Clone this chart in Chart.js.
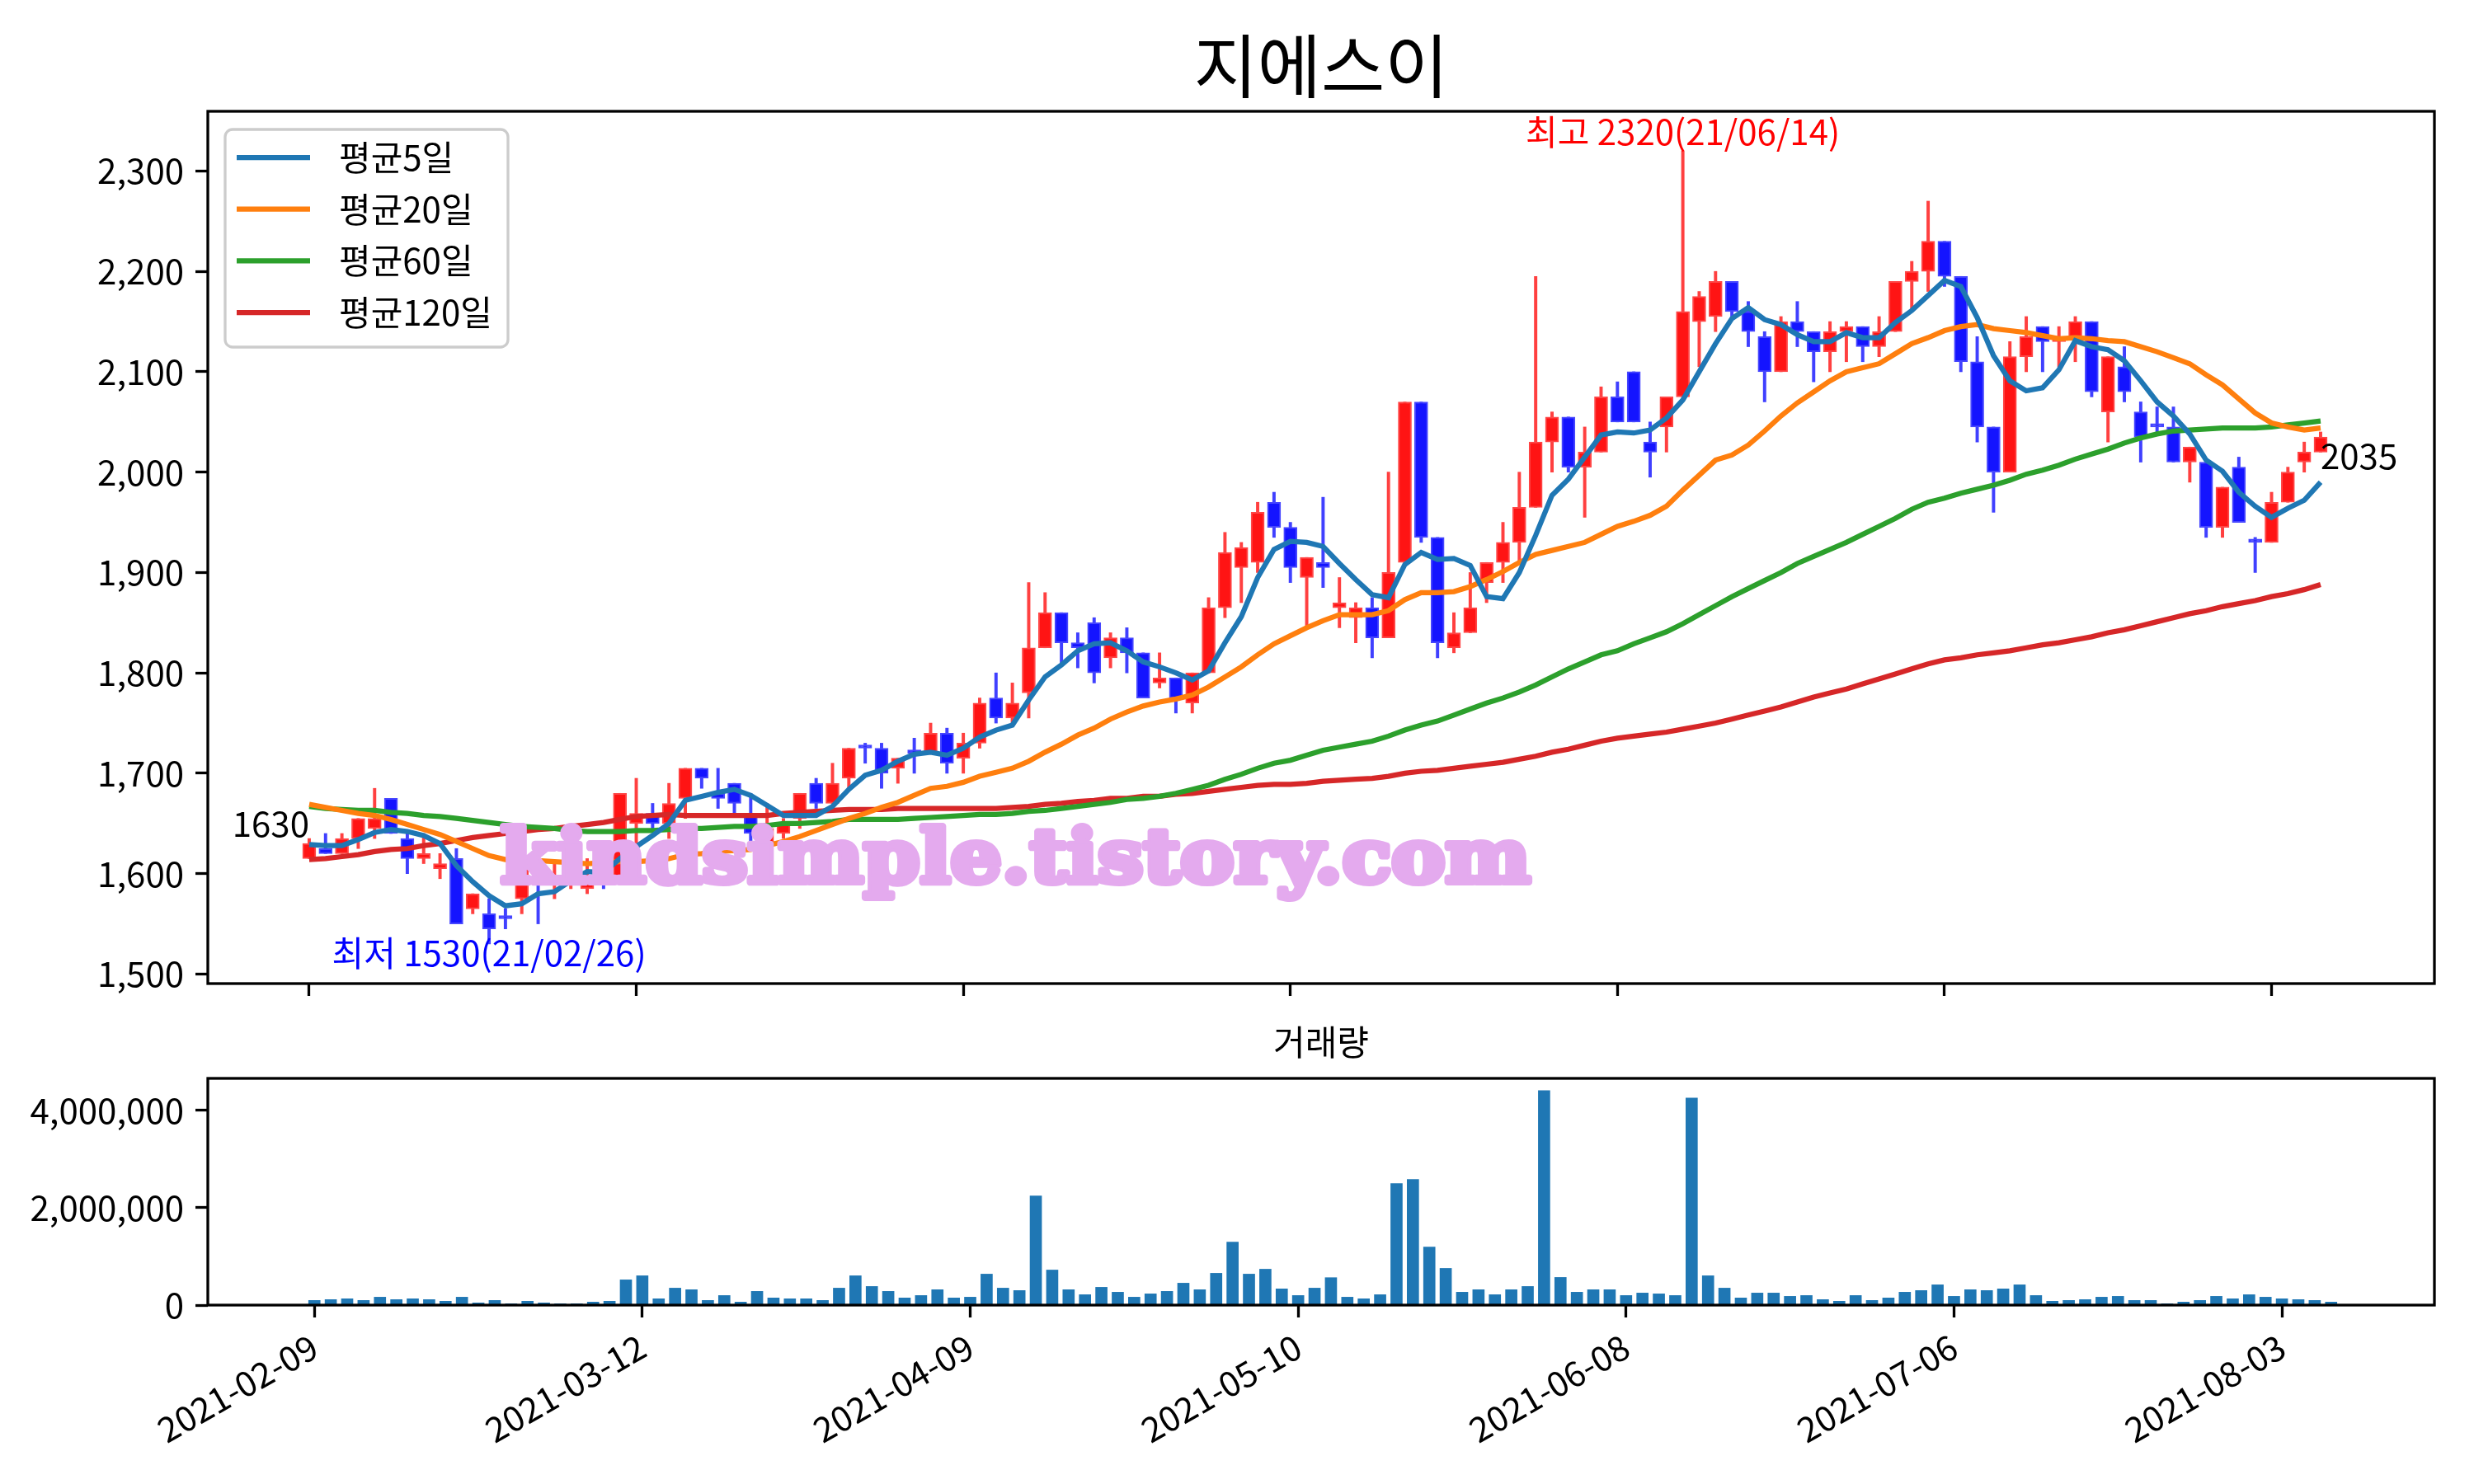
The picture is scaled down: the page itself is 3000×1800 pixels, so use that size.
<!DOCTYPE html>
<html>
<head>
<meta charset="utf-8">
<title>지에스이</title>
<script src="https://cdn.jsdelivr.net/npm/chart.js@4.4.1/dist/chart.umd.min.js"></script>
<style>
  html, body { margin: 0; padding: 0; background: #fff; }
  #wrap { position: relative; width: 3000px; height: 1800px; background: #fff; }
  #price { position: absolute; left: 0; top: 0; }
  #volume { position: absolute; left: 0; top: 1200px; }
</style>
</head>
<body>
<div id="wrap">
  <canvas id="price" width="3000" height="1260"></canvas>
  <canvas id="volume" width="3000" height="600"></canvas>
</div>
<script>
var titleText = '지에스이';

var dates = [
  '2021-02-09','2021-02-10','2021-02-15','2021-02-16','2021-02-17','2021-02-18','2021-02-19','2021-02-22','2021-02-23','2021-02-24',
  '2021-02-25','2021-02-26','2021-03-02','2021-03-03','2021-03-04','2021-03-05','2021-03-08','2021-03-09','2021-03-10','2021-03-11',
  '2021-03-12','2021-03-15','2021-03-16','2021-03-17','2021-03-18','2021-03-19','2021-03-22','2021-03-23','2021-03-24','2021-03-25',
  '2021-03-26','2021-03-29','2021-03-30','2021-03-31','2021-04-01','2021-04-02','2021-04-05','2021-04-06','2021-04-07','2021-04-08',
  '2021-04-09','2021-04-12','2021-04-13','2021-04-14','2021-04-15','2021-04-16','2021-04-19','2021-04-20','2021-04-21','2021-04-22',
  '2021-04-23','2021-04-26','2021-04-27','2021-04-28','2021-04-29','2021-04-30','2021-05-03','2021-05-04','2021-05-06','2021-05-07',
  '2021-05-10','2021-05-11','2021-05-12','2021-05-13','2021-05-14','2021-05-17','2021-05-18','2021-05-20','2021-05-21','2021-05-24',
  '2021-05-25','2021-05-26','2021-05-27','2021-05-28','2021-05-31','2021-06-01','2021-06-02','2021-06-03','2021-06-04','2021-06-07',
  '2021-06-08','2021-06-09','2021-06-10','2021-06-11','2021-06-14','2021-06-15','2021-06-16','2021-06-17','2021-06-18','2021-06-21',
  '2021-06-22','2021-06-23','2021-06-24','2021-06-25','2021-06-28','2021-06-29','2021-06-30','2021-07-01','2021-07-02','2021-07-05',
  '2021-07-06','2021-07-07','2021-07-08','2021-07-09','2021-07-12','2021-07-13','2021-07-14','2021-07-15','2021-07-16','2021-07-19',
  '2021-07-20','2021-07-21','2021-07-22','2021-07-23','2021-07-26','2021-07-27','2021-07-28','2021-07-29','2021-07-30','2021-08-02',
  '2021-08-03','2021-08-04','2021-08-05','2021-08-06'
];

var opens = [
  1615,1625,1620,1635,1645,1675,1635,1615,1605,1615, 1565,1560,1555,1575,1610,1590,1590,1585,1600,1595,
  1650,1660,1650,1675,1705,1680,1690,1660,1630,1640, 1655,1690,1670,1695,1725,1725,1705,1720,1720,1740,
  1715,1730,1775,1755,1780,1825,1860,1830,1850,1815, 1835,1820,1790,1795,1770,1800,1865,1905,1910,1970,
  1945,1895,1910,1865,1855,1865,1835,1910,2070,1935, 1825,1840,1890,1910,1930,1965,2030,2055,2005,2020,
  2075,2100,2030,2045,2075,2150,2155,2190,2160,2135, 2100,2150,2140,2120,2140,2145,2125,2140,2190,2200,
  2230,2195,2110,2045,2000,2115,2145,2130,2135,2150, 2060,2105,2060,2045,2045,2010,2010,1945,2005,1930,
  1930,1970,2010,2020
];
var highs = [
  1635,1640,1640,1655,1685,1675,1640,1640,1620,1625, 1580,1575,1565,1610,1615,1610,1610,1615,1605,1680,
  1695,1670,1690,1705,1705,1705,1690,1680,1670,1655, 1680,1695,1710,1725,1730,1730,1715,1735,1750,1745,
  1740,1775,1800,1790,1890,1880,1860,1840,1855,1840, 1845,1820,1820,1795,1800,1875,1940,1930,1970,1980,
  1950,1915,1975,1895,1870,1875,2000,2070,2070,1935, 1860,1900,1910,1950,2000,2195,2060,2055,2045,2085,
  2090,2100,2050,2075,2320,2180,2200,2190,2170,2140, 2155,2170,2140,2150,2150,2145,2155,2190,2210,2270,
  2230,2195,2135,2045,2130,2155,2145,2145,2155,2150, 2115,2125,2070,2065,2065,2025,2010,1985,2015,1935,
  1980,2005,2030,2040
];
var lows = [
  1615,1620,1620,1625,1635,1640,1600,1610,1595,1550, 1560,1530,1545,1560,1550,1575,1585,1580,1585,1590,
  1625,1645,1635,1655,1685,1665,1660,1630,1625,1635, 1645,1665,1670,1685,1710,1685,1690,1700,1720,1700,
  1700,1725,1750,1750,1755,1825,1810,1805,1790,1805, 1800,1775,1785,1760,1760,1800,1855,1870,1900,1935,
  1890,1845,1885,1845,1830,1815,1835,1910,1930,1815, 1820,1840,1870,1890,1910,1965,2000,2000,1955,2020,
  2050,2050,1995,2020,2075,2105,2140,2155,2125,2070, 2100,2125,2090,2100,2110,2110,2115,2140,2160,2180,
  2185,2100,2030,1960,2000,2100,2100,2105,2110,2075, 2030,2070,2010,2040,2010,1990,1935,1935,1950,1900,
  1930,1970,2000,2020
];
var closes = [
  1630,1620,1635,1655,1655,1640,1615,1620,1610,1550, 1580,1545,1555,1605,1600,1595,1600,1595,1590,1680,
  1660,1650,1670,1705,1695,1675,1670,1640,1645,1650, 1680,1670,1690,1725,1725,1700,1715,1720,1740,1710,
  1730,1770,1755,1770,1825,1860,1830,1825,1800,1835, 1820,1775,1795,1775,1800,1865,1920,1925,1960,1945,
  1905,1915,1905,1870,1865,1835,1900,2070,1935,1830, 1840,1865,1910,1930,1965,2030,2055,2005,2020,2075,
  2050,2050,2020,2075,2160,2175,2190,2160,2140,2100, 2150,2140,2120,2140,2145,2125,2140,2190,2200,2230,
  2195,2110,2045,2000,2115,2135,2130,2135,2150,2080, 2115,2080,2035,2045,2010,2025,1945,1985,1950,1930,
  1970,2000,2020,2035
];

var ma5 = [
  1629,1628,1628,1634,1641,1644,1642,1638,1630,1608, 1592,1578,1568,1570,1580,1582,1593,1602,1601,1615,
  1627,1638,1650,1673,1677,1681,1684,1678,1668,1658, 1658,1658,1667,1684,1698,1703,1712,1719,1721,1718,
  1725,1736,1743,1748,1773,1796,1808,1822,1829,1830, 1822,1811,1806,1800,1793,1802,1830,1856,1895,1923,
  1931,1930,1926,1909,1893,1878,1875,1908,1920,1913, 1914,1907,1876,1874,1900,1937,1977,1993,2015,2037,
  2040,2039,2042,2054,2072,2100,2128,2153,2164,2152, 2147,2137,2130,2130,2139,2134,2134,2149,2161,2176,
  2191,2185,2154,2116,2091,2081,2084,2102,2131,2125, 2122,2111,2091,2070,2056,2038,2012,2001,1980,1966,
  1955,1964,1972,1990
];
var ma20 = [
  1669,1666,1663,1660,1658,1654,1649,1644,1639,1632, 1625,1618,1614,1613,1613,1612,1611,1610,1611,1612,
  1612,1613,1615,1619,1620,1622,1623,1624,1628,1632, 1637,1643,1649,1655,1660,1666,1671,1678,1685,1687,
  1691,1697,1701,1705,1712,1721,1729,1738,1745,1754, 1761,1767,1771,1774,1778,1786,1796,1806,1818,1829,
  1837,1845,1852,1858,1858,1858,1862,1873,1880,1880, 1881,1886,1893,1901,1910,1918,1922,1926,1930,1938,
  1946,1951,1957,1966,1982,1997,2012,2017,2027,2041, 2056,2069,2080,2091,2100,2104,2108,2118,2128,2134,
  2141,2145,2147,2143,2141,2139,2136,2133,2134,2133, 2131,2130,2125,2120,2114,2108,2097,2087,2073,2059,
  2049,2045,2042,2044
];
var ma60 = [
  1667,1665,1664,1663,1663,1661,1660,1658,1657,1655, 1653,1651,1649,1647,1646,1645,1643,1642,1642,1642,
  1643,1643,1644,1645,1645,1646,1647,1647,1648,1650, 1650,1651,1652,1654,1654,1654,1654,1655,1656,1657,
  1658,1659,1659,1660,1662,1663,1665,1667,1669,1671, 1674,1675,1677,1680,1684,1688,1694,1699,1705,1710,
  1713,1718,1723,1726,1729,1732,1737,1743,1748,1752, 1758,1764,1770,1775,1781,1788,1796,1804,1811,1818,
  1822,1829,1835,1841,1849,1858,1867,1876,1884,1892, 1900,1909,1916,1923,1930,1938,1946,1954,1963,1970,
  1974,1979,1983,1987,1992,1998,2002,2007,2013,2018, 2023,2029,2034,2038,2041,2042,2043,2044,2044,2044,
  2045,2047,2049,2051
];
var ma120 = [
  1614,1615,1617,1619,1622,1624,1625,1628,1630,1633, 1636,1638,1640,1642,1644,1645,1647,1649,1651,1654,
  1657,1658,1659,1658,1658,1658,1658,1658,1658,1660, 1661,1662,1663,1664,1664,1664,1665,1665,1665,1665,
  1665,1665,1665,1666,1667,1669,1670,1672,1673,1675, 1675,1677,1677,1679,1680,1682,1684,1686,1688,1689,
  1689,1690,1692,1693,1694,1695,1697,1700,1702,1703, 1705,1707,1709,1711,1714,1717,1721,1724,1728,1732,
  1735,1737,1739,1741,1744,1747,1750,1754,1758,1762, 1766,1771,1776,1780,1784,1789,1794,1799,1804,1809,
  1813,1815,1818,1820,1822,1825,1828,1830,1833,1836, 1840,1843,1847,1851,1855,1859,1862,1866,1869,1872,
  1876,1879,1883,1888
];

var volumes = [
  96000,113000,130000,96000,163000,113000,130000,113000,79000,163000,
  45000,96000,28000,79000,45000,28000,28000,62000,79000,519000,
  603000,130000,349000,316000,96000,197000,62000,282000,147000,130000,
  130000,96000,349000,603000,383000,282000,147000,197000,316000,147000,
  163000,637000,349000,299000,2243000,721000,316000,214000,366000,265000,
  163000,231000,282000,451000,316000,654000,1296000,637000,738000,333000,
  197000,349000,564000,163000,130000,214000,2497000,2581000,1195000,755000,
  265000,316000,214000,316000,383000,4407000,569000,265000,316000,316000,
  197000,248000,231000,197000,4255000,603000,349000,147000,248000,248000,
  180000,197000,113000,79000,197000,96000,147000,265000,299000,417000,
  180000,316000,299000,333000,417000,197000,79000,96000,113000,163000,
  180000,96000,96000,28000,62000,96000,180000,130000,214000,163000,
  130000,113000,96000,62000
];

var priceTicks = [1500, 1600, 1700, 1800, 1900, 2000, 2100, 2200, 2300];
var volumeTicks = [0, 2000000, 4000000];
var dateTicks = [0, 20, 40, 60, 80, 100, 120];
var maNames = ['평균5일', '평균20일', '평균60일', '평균120일'];
var maColors = ['#1f77b4', '#ff7f0e', '#2ca02c', '#d62728'];

var FONT = '"Noto Sans CJK KR", "Noto Sans", sans-serif';
Chart.defaults.font.family = FONT;
Chart.defaults.color = '#000';

function pts(arr) {
  return arr.map(function(v, i) { return {x: i, y: v}; });
}
function upDown(up, down) {
  return closes.map(function(c, i) { return c > opens[i] ? up : down; });
}
function shortDate(d) {
  return d.slice(2).replace(/-/g, '/');
}

var bodies = closes.map(function(c, i) { return {x: i, y: [opens[i], c]}; });
var wicks = closes.map(function(c, i) { return {x: i, y: [lows[i], highs[i]]}; });

var priceDecor = {
  id: 'priceDecor',
  afterDraw: function(chart) {
    var ctx = chart.ctx, a = chart.chartArea, x = chart.scales.x, y = chart.scales.y;
    ctx.save();
    ctx.strokeStyle = '#000';
    ctx.lineWidth = 3.3;
    ctx.strokeRect(a.left, a.top, a.right - a.left, a.bottom - a.top);

    ctx.fillStyle = '#000';
    ctx.font = '84px ' + FONT;
    ctx.textAlign = 'center';
    ctx.textBaseline = 'alphabetic';
    ctx.fillText(titleText, (a.left + a.right) / 2, 112);

    // first / last close and high / low notes
    ctx.font = '42px ' + FONT;
    var last = closes.length - 1;
    ctx.textAlign = 'right';
    ctx.fillText(String(closes[0]), x.getPixelForValue(0), y.getPixelForValue(closes[0]) - 8);
    ctx.textAlign = 'left';
    ctx.fillText(String(closes[last]), x.getPixelForValue(last), y.getPixelForValue(closes[last]) + 39);

    var hi = Math.max.apply(null, highs), hiIdx = highs.indexOf(hi);
    var lo = Math.min.apply(null, lows), loIdx = lows.indexOf(lo);
    ctx.textAlign = 'center';
    ctx.fillStyle = '#ff0000';
    ctx.fillText('최고 ' + hi + '(' + shortDate(dates[hiIdx]) + ')', x.getPixelForValue(hiIdx), y.getPixelForValue(hi) - 7);
    ctx.fillStyle = '#0000ff';
    ctx.fillText('최저 ' + lo + '(' + shortDate(dates[loIdx]) + ')', x.getPixelForValue(loIdx), y.getPixelForValue(lo) + 27);

    // legend box
    var lx = a.left + 21, ly = a.top + 22, lw = 343, lh = 264;
    ctx.beginPath();
    ctx.roundRect(lx, ly, lw, lh, 9);
    ctx.fillStyle = 'rgba(255,255,255,0.8)';
    ctx.fill();
    ctx.strokeStyle = '#cccccc';
    ctx.lineWidth = 3.3;
    ctx.stroke();
    ctx.font = '42px ' + FONT;
    ctx.textAlign = 'left';
    ctx.textBaseline = 'middle';
    maNames.forEach(function(name, k) {
      var ry = ly + 34 + k * 62.7;
      ctx.strokeStyle = maColors[k];
      ctx.lineWidth = 6.25;
      ctx.beginPath();
      ctx.moveTo(lx + 14, ry);
      ctx.lineTo(lx + 103, ry);
      ctx.stroke();
      ctx.fillStyle = '#000';
      ctx.fillText(name, lx + 138, ry);
    });

    // watermark
    ctx.font = 'bold 90px "DejaVu Serif", serif';
    ctx.textAlign = 'left';
    ctx.textBaseline = 'alphabetic';
    var wm = 'kindsimple.tistory.com';
    var w = ctx.measureText(wm).width;
    ctx.translate(607, 1070);
    ctx.scale(1249 / w, 1);
    ctx.fillStyle = '#e4aaee';
    ctx.strokeStyle = '#e4aaee';
    ctx.lineWidth = 8;
    ctx.lineJoin = 'round';
    ctx.strokeText(wm, 0, 0);
    ctx.fillText(wm, 0, 0);
    ctx.restore();
  }
};

var axisGrid = {
  drawOnChartArea: false,
  drawTicks: true,
  tickLength: 15,
  tickWidth: 3.3,
  tickColor: '#000',
  offset: false
};

new Chart(document.getElementById('price'), {
  type: 'bar',
  data: {
    datasets: [
      {type: 'line', label: maNames[0], data: pts(ma5), borderColor: maColors[0], borderWidth: 6.25, pointRadius: 0, order: 0},
      {type: 'line', label: maNames[1], data: pts(ma20), borderColor: maColors[1], borderWidth: 6.25, pointRadius: 0, order: 0},
      {type: 'line', label: maNames[2], data: pts(ma60), borderColor: maColors[2], borderWidth: 6.25, pointRadius: 0, order: 0},
      {type: 'line', label: maNames[3], data: pts(ma120), borderColor: maColors[3], borderWidth: 6.25, pointRadius: 0, order: 0},
      {
        label: 'body', data: bodies, order: 1, grouped: false,
        barThickness: 16, minBarLength: 4, borderSkipped: false, borderWidth: 2,
        backgroundColor: upDown('rgb(255,20,20)', 'rgb(20,20,255)'),
        borderColor: upDown('rgb(255,70,70)', 'rgb(70,70,255)')
      },
      {
        label: 'wick', data: wicks, order: 2, grouped: false,
        barThickness: 3.3, borderWidth: 0,
        backgroundColor: upDown('rgba(255,0,0,0.75)', 'rgba(0,0,255,0.75)')
      }
    ]
  },
  options: {
    responsive: false,
    animation: false,
    events: [],
    layout: {padding: {left: 0, right: 48, top: 135, bottom: 0}},
    plugins: {legend: {display: false}, tooltip: {enabled: false}, title: {display: false}},
    scales: {
      x: {
        type: 'linear', min: -6.2, max: 129.96, offset: false,
        afterBuildTicks: function(s) { s.ticks = dateTicks.map(function(v) { return {value: v}; }); },
        afterFit: function(s) { s.height = 67; },
        ticks: {display: false},
        grid: axisGrid,
        border: {display: false}
      },
      y: {
        min: 1490.5, max: 2359.5,
        afterBuildTicks: function(s) { s.ticks = priceTicks.map(function(v) { return {value: v}; }); },
        afterFit: function(s) { s.width = 252; },
        ticks: {
          font: {size: 42}, color: '#000', padding: 14,
          callback: function(v) { return v.toLocaleString('en-US'); }
        },
        grid: axisGrid,
        border: {display: false}
      }
    }
  },
  plugins: [priceDecor]
});

var volumeDecor = {
  id: 'volumeDecor',
  afterDraw: function(chart) {
    var ctx = chart.ctx, a = chart.chartArea;
    ctx.save();
    ctx.strokeStyle = '#000';
    ctx.lineWidth = 3.3;
    ctx.strokeRect(a.left, a.top, a.right - a.left, a.bottom - a.top);
    ctx.fillStyle = '#000';
    ctx.font = '42px ' + FONT;
    ctx.textAlign = 'center';
    ctx.textBaseline = 'alphabetic';
    ctx.fillText('거래량', (a.left + a.right) / 2, 80);
    ctx.restore();
  }
};

new Chart(document.getElementById('volume'), {
  type: 'bar',
  data: {
    datasets: [{
      label: '거래량', data: pts(volumes), grouped: false,
      barThickness: 14, borderWidth: 0, backgroundColor: '#1f77b4'
    }]
  },
  options: {
    responsive: false,
    animation: false,
    events: [],
    layout: {padding: {left: 0, right: 48, top: 108, bottom: 0}},
    plugins: {legend: {display: false}, tooltip: {enabled: false}, title: {display: false}},
    scales: {
      x: {
        type: 'linear', min: -6.5, max: 129.3, offset: false,
        afterBuildTicks: function(s) { s.ticks = dateTicks.map(function(v) { return {value: v}; }); },
        afterFit: function(s) { s.height = 217; },
        ticks: {
          font: {size: 42}, color: '#000', padding: 10,
          minRotation: 30, maxRotation: 30, autoSkip: false,
          callback: function(v) { return dates[v]; }
        },
        grid: axisGrid,
        border: {display: false}
      },
      y: {
        min: 0, max: 4660000,
        afterBuildTicks: function(s) { s.ticks = volumeTicks.map(function(v) { return {value: v}; }); },
        afterFit: function(s) { s.width = 252; },
        ticks: {
          font: {size: 42}, color: '#000', padding: 14,
          callback: function(v) { return v.toLocaleString('en-US'); }
        },
        grid: axisGrid,
        border: {display: false}
      }
    }
  },
  plugins: [volumeDecor]
});
</script>
</body>
</html>
